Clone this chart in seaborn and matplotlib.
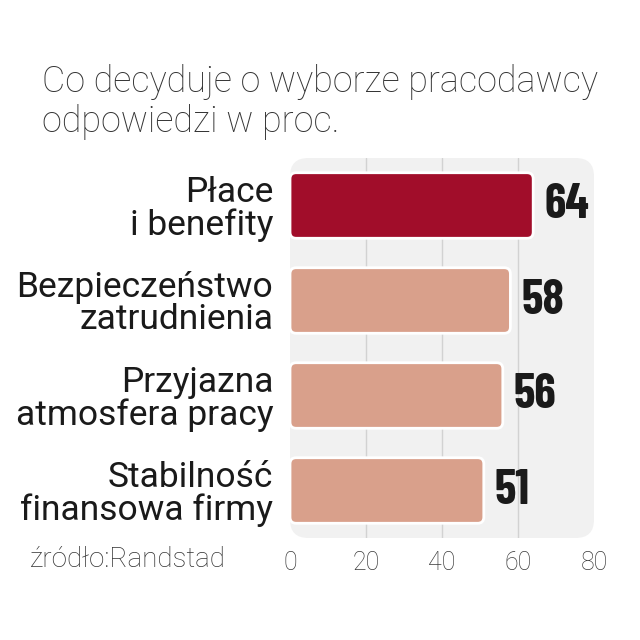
import matplotlib
matplotlib.use("Agg")
import matplotlib.pyplot as plt
import seaborn as sns
import pandas as pd
from matplotlib.patches import FancyBboxPatch

# data
categories = ["Płace\ni benefity", "Bezpieczeństwo\nzatrudnienia",
              "Przyjazna\natmosfera pracy", "Stabilność\nfinansowa firmy"]
values = [64, 58, 56, 51]
xticks = [0, 20, 40, 60, 80]
title_lines = ["Co decyduje o wyborze pracodawcy", "odpowiedzi w proc."]
source = "źródło:Randstad"

bar_colors = ["#a10d2a", "#d9a08b", "#d9a08b", "#d9a08b"]
LIGHT = "Roboto"
BOLD = "Barlow Condensed"

sns.set_style("white")
plt.rcParams["font.family"] = [LIGHT, "DejaVu Sans"]

df = pd.DataFrame({"cat": categories, "val": values})

fig = plt.figure(figsize=(6.4, 6.4), dpi=100)
AX_W, AX_H = 304, 380
ax = fig.add_axes([290 / 640, 1 - 538 / 640, AX_W / 640, AX_H / 640])

sns.barplot(data=df, x="val", y="cat", hue="cat", palette=bar_colors,
            saturation=1, orient="h", width=0.69, legend=False, ax=ax)
ax.set_xlim(0, 80)
ax.set_ylim(3.5, -0.5)

# light rounded panel behind everything
panel = FancyBboxPatch((0, 0), 1, 1, boxstyle="round,pad=0,rounding_size=0.06",
                       mutation_aspect=AX_W / AX_H, transform=ax.transAxes,
                       facecolor="#f1f1f1", edgecolor="none", zorder=0, clip_on=False)
ax.add_patch(panel)
ax.patch.set_visible(False)
for s in ax.spines.values():
    s.set_visible(False)

# grid lines at 20, 40, 60
for g in xticks[1:-1]:
    ax.axvline(g, color="#d2d2d2", lw=1, zorder=1)

# swap rectangular bars for rounded ones
px_x = AX_W / 80
px_y = AX_H / 4
for bars in ax.containers:
    for rect in bars:
        rect.set_visible(False)
        rb = FancyBboxPatch((rect.get_x(), rect.get_y()), rect.get_width(), rect.get_height(),
                            boxstyle="round,pad=0,rounding_size=1.6",
                            mutation_aspect=px_x / px_y,
                            facecolor=rect.get_facecolor(), edgecolor="white",
                            lw=2, zorder=3)
        ax.add_patch(rb)
    ax.bar_label(bars, labels=[f"{v:.0f}" for v in bars.datavalues], padding=8,
                 fontsize=35, fontfamily=BOLD, fontweight="bold", color="#1a1a1a")

ax.set_xticks(xticks)
ax.set_xticklabels([str(t) for t in xticks], fontsize=18, color="#3a3a3a",
                   fontweight="light")
ax.tick_params(axis="x", length=0, pad=9)
ax.tick_params(axis="y", length=0, pad=12)
for lab in ax.get_yticklabels():
    lab.set_fontsize(25.5)
    lab.set_fontweight("normal")
    lab.set_color("#1a1a1a")
    lab.set_linespacing(0.98)
    lab.set_multialignment("right")
ax.set_xlabel("")
ax.set_ylabel("")

fig.text(42 / 640, 1 - 92 / 640, title_lines[0], fontsize=25.8, fontweight="light",
         color="#333333", va="baseline")
fig.text(42 / 640, 1 - 132 / 640, title_lines[1], fontsize=25.8, fontweight="light",
         color="#333333", va="baseline")
fig.text(30 / 640, 1 - 567 / 640, source, fontsize=20, fontweight="light",
         color="#333333", va="baseline")

fig.savefig("out.png", dpi=100)
